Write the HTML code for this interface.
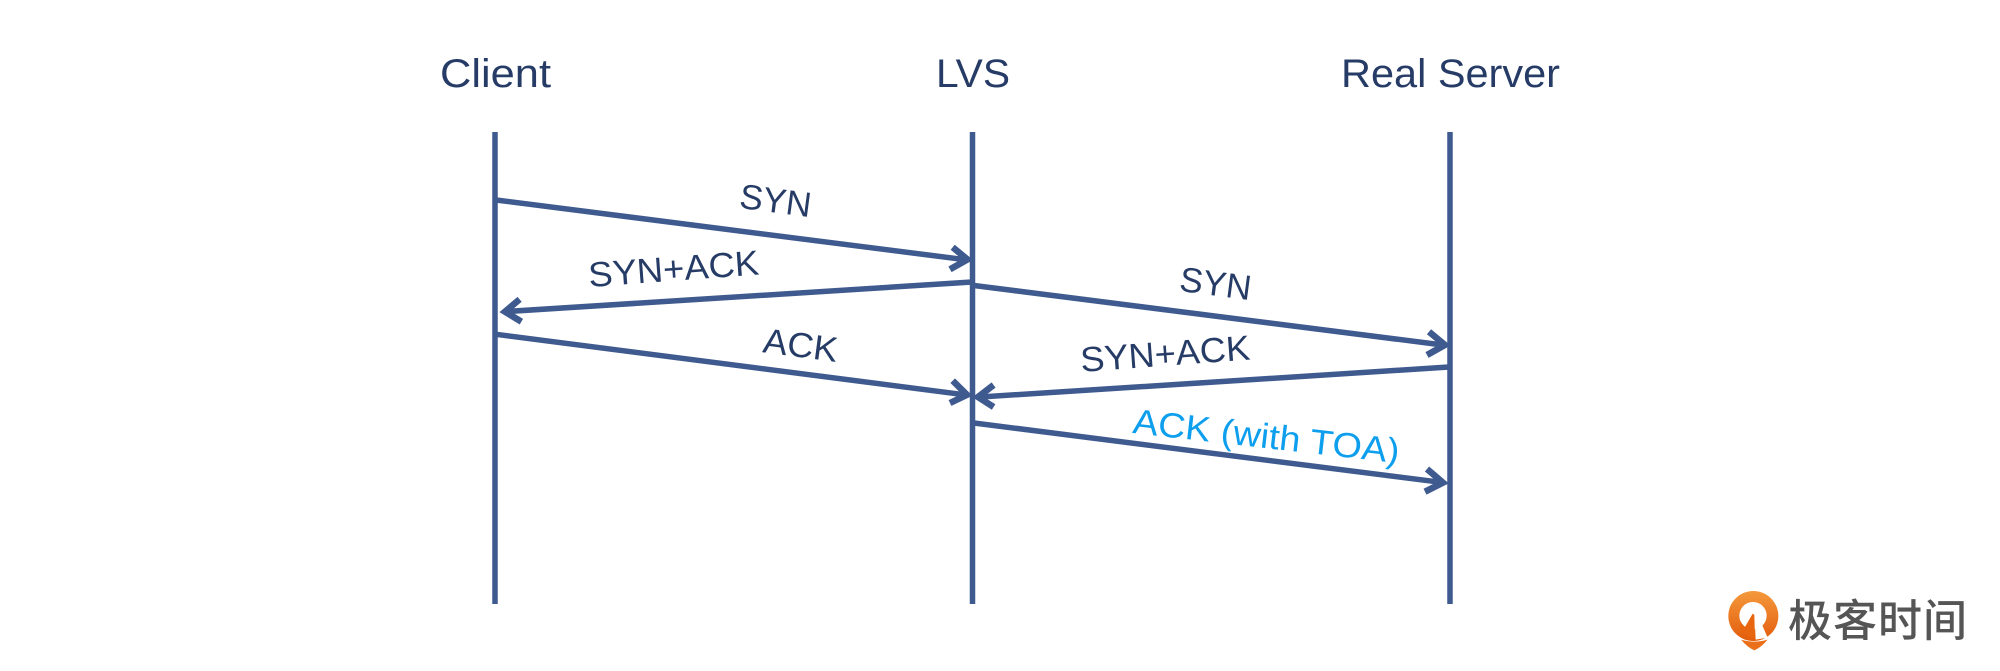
<!DOCTYPE html>
<html>
<head>
<meta charset="utf-8">
<style>
html,body{margin:0;padding:0;background:#fff;}
svg{display:block;}
text{font-family:"Liberation Sans","Noto Sans CJK SC",sans-serif;}
</style>
</head>
<body>
<svg width="2000" height="671" viewBox="0 0 2000 671" xmlns="http://www.w3.org/2000/svg">
<defs>
<linearGradient id="g" x1="0" y1="0" x2="0" y2="1"><stop offset="0" stop-color="#f4993c"/><stop offset="1" stop-color="#e35c0c"/></linearGradient>
</defs>
<rect width="2000" height="671" fill="#fff"/>

<g fill="#263c66" font-size="40" text-anchor="middle">
<text x="495.5" y="87" textLength="111" lengthAdjust="spacingAndGlyphs">Client</text>
<text x="973" y="87" textLength="74" lengthAdjust="spacingAndGlyphs">LVS</text>
<text x="1450.5" y="87" textLength="219" lengthAdjust="spacingAndGlyphs">Real Server</text>
</g>

<g stroke="#3f5a8f" fill="none">
<g stroke-width="5.5">
<line x1="495" y1="132" x2="495" y2="604"/>
<line x1="972.5" y1="132" x2="972.5" y2="604"/>
<line x1="1450" y1="132" x2="1450" y2="604"/>
<line x1="496" y1="200" x2="966" y2="259.8"/>
<line x1="972" y1="282" x2="507" y2="311.5"/>
<line x1="496" y1="334.3" x2="965" y2="394.8"/>
<line x1="974" y1="285.5" x2="1443" y2="345"/>
<line x1="1449" y1="367" x2="980" y2="397"/>
<line x1="974" y1="423" x2="1441" y2="482.3"/>
</g>
<g stroke-width="6.5">
<polyline points="952.7,247.3 967.5,259.5 950,269.3"/>
<polyline points="519.6,299.3 505,311.7 521.4,321.7"/>
<polyline points="952.7,380.7 967,394.8 950,403"/>
<polyline points="1429,331.7 1445,345 1427,355"/>
<polyline points="993.6,385 978,397 993.6,407"/>
<polyline points="1427,469 1443,482.7 1425,491.7"/>
</g>
</g>

<g fill="#263c66" font-size="35" text-anchor="middle">
<text transform="translate(774,212.5) rotate(7.5)" textLength="72" lengthAdjust="spacingAndGlyphs">SYN</text>
<text transform="translate(674.5,280.7) rotate(-4.2)" textLength="171" lengthAdjust="spacingAndGlyphs">SYN+ACK</text>
<text transform="translate(799,357) rotate(7.5)" textLength="75" lengthAdjust="spacingAndGlyphs">ACK</text>
<text transform="translate(1214,295.5) rotate(7.5)" textLength="72" lengthAdjust="spacingAndGlyphs">SYN</text>
<text transform="translate(1166,365.7) rotate(-4.2)" textLength="170" lengthAdjust="spacingAndGlyphs">SYN+ACK</text>
<text transform="translate(1265,448) rotate(6.5)" fill="#0d9fee" textLength="268" lengthAdjust="spacingAndGlyphs">ACK (with TOA)</text>
</g>

<!-- logo -->
<g transform="translate(1725,585) scale(0.3333)">
<circle cx="85" cy="93" r="75" fill="url(#g)"/>
<circle cx="84" cy="92" r="41" fill="#fff"/>
<path d="M83,86 L60,126 L45,110 L45,135 L80,160 L90,160 L88,90 Z" fill="#e8660f"/>
<path d="M89,95 L108,112 L128,158 L92,164 Z" fill="#fff"/>
<path d="M10,150 L50,168 L125,168 L165,150 L165,175 L10,175 Z" fill="#fff"/>
<path d="M48,164 Q88,176 128,164 Q108,188 88,196 Q68,188 48,164 Z" fill="#ea6f1a"/>
</g>
<text x="1788" y="636" font-size="44" font-weight="500" fill="#555" textLength="179" style='font-family:"Noto Sans CJK SC",sans-serif'>极客时间</text>
</svg>
</body>
</html>
